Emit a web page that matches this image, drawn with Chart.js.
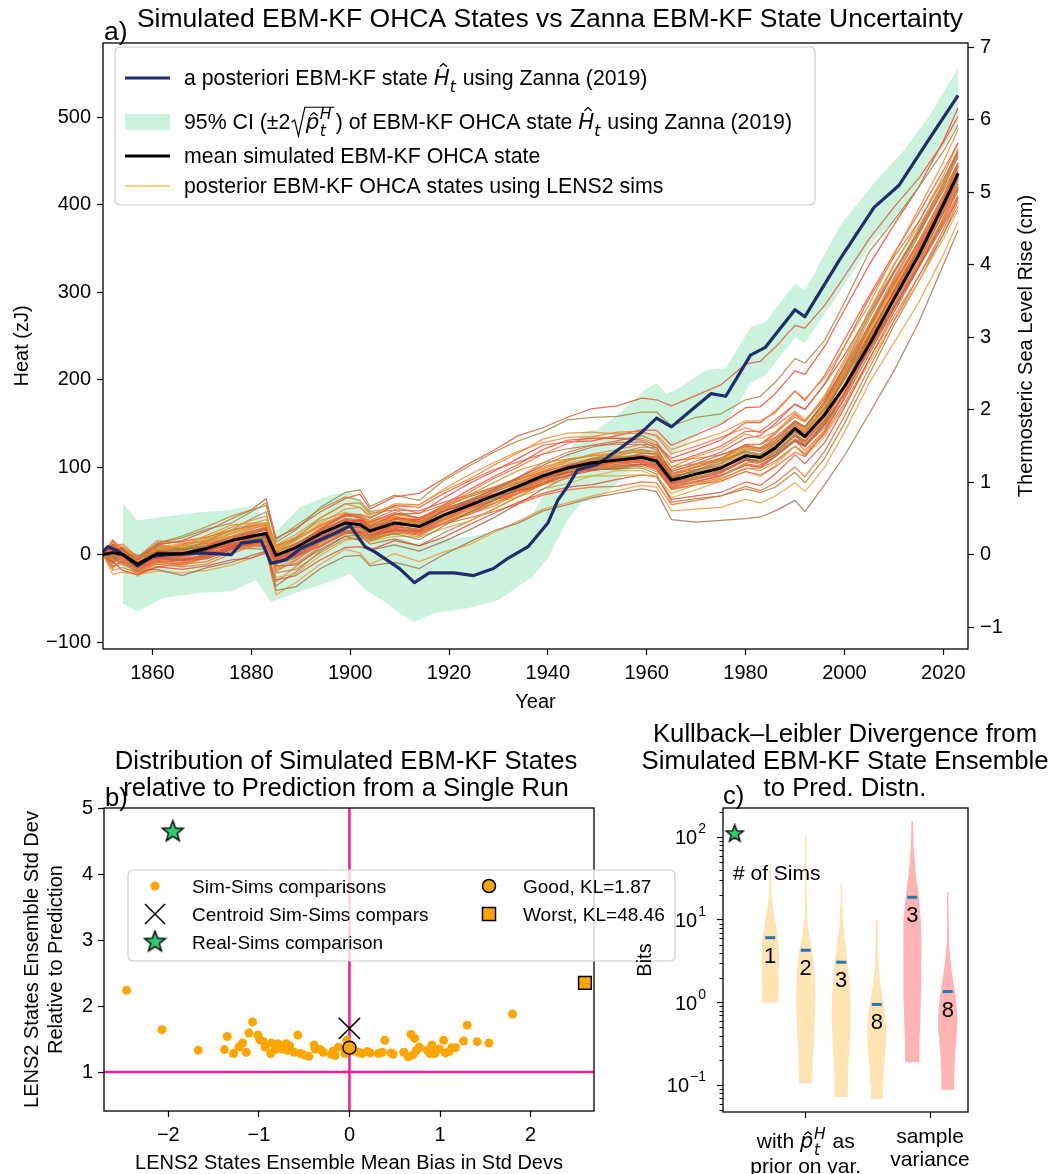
<!DOCTYPE html>
<html>
<head>
<meta charset="utf-8">
<title>EBM-KF OHCA ensemble states</title>
<script src="https://cdn.jsdelivr.net/npm/chart.js@4.4.1/dist/chart.umd.min.js"></script>
<style>
  html, body { margin: 0; padding: 0; background: #fff; overflow: hidden; }
  #wrap { position: relative; width: 1051px; height: 1174px; }
  canvas { position: absolute; }
  #ca { left: 0; top: 0; }
  #cb { left: 0; top: 700px; }
  #cc { left: 600px; top: 700px; }
</style>
</head>
<body>
<div id="wrap">
  <canvas id="ca" width="1051" height="720"></canvas>
  <canvas id="cb" width="700" height="474"></canvas>
  <canvas id="cc" width="451" height="474"></canvas>
</div>
<script>
// ---------------- panel a: ocean heat content anomaly ----------------
const YEAR_TICKS = [1860, 1880, 1900, 1920, 1940, 1960, 1980, 2000, 2020];
const HEAT_TICKS = [-100, 0, 100, 200, 300, 400, 500];
const SLR_TICKS = [-1, 0, 1, 2, 3, 4, 5, 6, 7];
const HEAT_RANGE = [-108, 585];
const ZJ_PER_CM = 82.9;

const RUN_YEARS = [1850,1852,1854,1857,1861,1866,1871,1876,1880,1883,1885,1889,1894,1899,1902,1904,1909,1914,1919,1924,1929,1934,1939,1944,1949,1954,1959,1962,1965,1970,1975,1980,1983,1986,1990,1992,1996,2000,2005,2010,2015,2020,2023];
const RUN_MEAN = [0,2,0,-11,1,1,7,16,21,24,-1,8,24,36,34,27,36,32,45,56,67,78,90,99,105,108,111,107,85,92,99,113,111,122,144,135,160,192,240,292,342,400,436];

// posterior EBM-KF states, one row per LENS2 simulation
const LENS2_RUNS = [
  [0,10,5,-6,11,16,27,41,51,64,19,30,49,64,69,52,66,70,87,104,119,136,145,157,167,170,179,177,170,182,194,218,221,237,262,259,285,318,361,397,430,471,501],
  [0,-3,3,-3,13,19,29,36,49,59,14,28,54,71,74,55,68,62,85,101,117,130,140,154,157,158,163,163,147,157,161,177,181,197,224,219,245,288,346,382,420,461,491],
  [0,14,8,-5,6,11,19,31,39,44,11,23,42,58,54,45,58,57,73,86,102,116,132,139,140,138,139,137,120,130,139,153,153,162,187,178,202,238,286,342,395,449,486],
  [0,-13,-8,-16,-7,-9,2,14,23,29,-6,6,29,46,46,42,56,54,70,84,97,106,115,121,125,130,136,129,105,114,124,141,141,154,172,166,195,238,293,340,380,429,461],
  [0,7,2,-11,-4,-7,-3,10,19,24,-9,2,22,38,39,27,41,40,57,74,89,103,120,131,133,133,131,125,110,120,131,151,151,164,187,176,205,246,296,344,390,439,471],
  [0,-6,-12,-17,6,9,17,28,35,40,9,20,39,48,44,35,41,35,53,68,82,96,105,109,113,113,119,117,100,104,109,125,126,140,162,152,182,223,279,332,375,423,454],
  [0,5,6,-11,-2,-5,-1,6,13,19,-11,-4,16,31,31,22,28,27,45,61,75,88,102,114,123,128,129,122,95,104,114,125,121,130,152,146,175,216,273,322,368,416,448],
  [0,-18,-15,-21,-11,-14,-11,1,9,14,-21,-17,2,18,19,15,26,24,40,54,67,81,95,107,115,120,126,125,107,110,114,123,119,127,145,139,168,208,263,317,368,421,458],
  [0,12,0,-14,9,6,9,16,18,19,-3,3,16,26,22,17,24,17,33,48,62,76,90,101,110,111,111,104,87,97,107,118,113,122,140,134,162,203,259,314,365,419,456],
  [0,-1,-5,-19,-9,-11,-8,4,11,16,-16,-10,9,24,24,19,31,29,45,54,62,70,80,91,100,106,111,109,90,100,109,125,126,134,152,146,175,210,261,310,355,403,436],
  [0,8,10,-7,1,3,12,24,31,36,4,10,24,34,29,19,26,20,30,38,52,66,80,87,90,90,91,89,70,80,89,105,106,120,142,132,155,190,241,290,335,383,416],
  [0,-8,-18,-23,-14,-17,-13,-6,-4,2,-29,-24,-6,8,9,5,16,10,20,34,47,60,70,77,80,86,91,89,63,67,71,83,79,92,114,104,128,168,223,277,328,381,418],
  [0,-3,-10,-19,-17,-24,-15,-9,-1,4,-41,-37,-16,-2,-1,-13,-9,-16,0,14,27,36,50,57,65,70,75,72,40,37,39,41,43,50,62,49,80,113,161,210,265,331,371],
  [0,-23,-20,-23,-19,-21,-18,-12,-4,4,-46,-32,-11,6,2,-11,1,-8,3,11,25,38,52,59,67,73,79,77,50,52,54,63,59,67,82,72,100,140,196,242,288,343,381],
  [0,4,-2,-15,-5,-3,5,18,26,32,-1,11,30,44,44,39,51,50,60,68,77,86,95,102,105,105,106,99,75,80,84,95,91,100,117,112,140,180,236,284,330,379,411],
  [0,-4,4,-9,13,21,32,44,51,56,17,33,52,66,62,49,54,47,57,66,75,83,92,97,100,100,101,95,77,87,97,113,114,127,150,144,172,213,269,322,372,426,464],
  [0,17,-5,-21,-14,-11,-1,11,13,12,-19,-7,14,31,32,27,33,26,35,42,49,58,68,74,77,78,83,82,57,62,67,78,73,82,100,89,118,158,213,267,318,371,408],
  [0,-10,8,-6,3,-1,2,8,16,22,-11,0,19,36,39,37,48,42,53,61,69,78,87,94,97,98,103,102,82,92,96,108,103,112,130,124,152,193,249,302,352,406,444],
  [0,6,-4,-13,6,11,22,34,36,36,5,16,36,52,54,42,56,57,75,91,105,118,128,134,135,133,133,127,100,112,121,138,133,140,157,152,180,220,276,330,380,433,471],
  [0,-6,2,-5,-4,-7,-5,6,15,20,-13,-12,6,21,16,5,11,4,15,28,42,58,75,89,100,108,116,115,90,94,99,110,106,114,132,126,148,183,233,282,328,376,408],
  [0,10,12,-3,16,13,15,21,29,34,1,6,19,28,24,22,36,37,55,71,87,100,115,127,135,140,141,135,115,124,134,145,139,147,164,154,178,213,263,312,358,411,448],
  [0,0,-6,-25,-7,-4,7,19,19,18,-26,-22,-1,16,19,15,21,20,37,51,59,66,75,81,90,96,96,89,65,74,84,95,89,102,124,112,135,170,219,267,312,361,394],
  [0,16,6,-11,4,1,5,11,11,10,-7,-2,10,24,26,21,34,34,50,59,67,73,80,91,100,106,113,112,97,107,117,133,136,150,172,166,195,228,276,324,370,423,461],
  [0,-16,-4,-19,-1,6,15,28,41,49,4,18,42,58,59,47,51,40,50,58,65,73,88,101,110,116,123,122,93,97,101,111,106,114,137,124,145,178,229,282,335,391,428],
  [0,8,-8,-15,-9,-13,-3,8,9,9,-31,-14,9,26,29,19,24,24,40,46,55,70,85,99,108,113,119,117,80,82,87,98,99,112,130,119,142,186,243,297,342,389,421],
  [0,-2,0,-9,1,4,12,18,21,22,-6,8,29,46,42,32,46,47,65,81,95,110,125,129,130,136,143,142,125,137,149,168,169,184,210,206,238,280,331,377,420,473,511],
  [0,4,8,-1,5,-1,1,6,7,6,-36,-20,4,21,22,12,18,10,25,38,52,66,82,94,97,98,99,92,60,64,67,75,71,77,94,82,110,150,206,262,312,366,404],
  [0,-8,-2,-7,11,7,7,12,19,26,-9,4,26,40,34,25,30,24,41,56,72,88,105,117,125,126,126,119,85,87,91,103,99,107,124,114,138,173,223,272,318,366,398],
  [0,5,3,-6,9,12,15,24,30,34,6,16,32,44,44,36,44,40,54,66,76,86,98,108,114,116,119,114,93,101,108,122,121,131,152,143,170,205,255,305,355,410,446],
  [0,-4,-6,-18,-8,-6,-2,8,12,15,-10,-2,14,27,25,19,27,22,36,46,58,70,82,90,96,100,103,98,76,83,90,102,100,112,131,124,150,186,236,286,336,390,424],
  [0,9,-2,-9,4,7,13,20,26,31,4,13,28,38,39,30,38,36,50,60,72,82,92,101,104,106,110,108,88,97,105,120,118,128,146,140,166,200,248,296,345,398,432],
  [0,-6,-9,-14,-3,-4,3,12,18,20,-6,3,20,32,28,22,32,28,41,52,62,74,86,96,103,106,108,102,80,86,93,108,105,115,135,128,153,190,242,292,340,393,430],
  [0,3,4,-12,4,5,10,18,24,28,2,12,27,40,38,30,40,37,49,61,71,82,94,103,108,111,113,110,89,96,104,118,115,127,148,140,167,204,252,300,348,400,438],
  [0,-10,-3,-16,-2,-2,4,14,19,21,-4,5,21,33,31,24,33,29,42,53,64,75,87,96,102,105,108,104,82,89,95,109,107,118,137,130,155,192,244,294,343,396,432],
  [0,7,5,-8,6,8,14,25,31,35,8,18,34,47,45,37,46,42,55,66,77,88,100,109,113,115,117,113,92,100,107,121,119,130,150,142,168,206,256,306,356,408,445],
  [0,-2,-4,-13,0,-1,5,13,17,18,-8,0,16,28,26,19,28,24,37,48,59,70,82,91,98,101,104,100,78,84,90,104,101,112,130,123,148,184,234,282,332,385,420],
  [0,12,7,-4,12,15,20,28,33,36,10,19,33,45,43,35,43,38,50,58,68,77,88,97,103,107,112,110,92,101,110,126,126,138,160,152,178,214,262,310,358,410,446],
  [0,-14,-11,-20,-9,-10,-4,6,11,14,-14,-6,12,25,24,18,28,25,39,51,63,75,87,95,100,102,103,97,74,80,86,99,96,105,124,116,141,178,229,280,330,384,418],
  [0,1,2,-10,3,3,9,19,25,30,4,12,28,41,40,32,41,37,51,63,74,86,98,108,113,117,120,117,95,103,110,124,122,133,153,146,172,208,258,308,356,409,444],
  [0,4,-5,-14,-1,-2,3,12,16,17,-6,3,18,30,28,21,30,27,40,50,61,72,84,93,99,103,107,103,81,88,95,109,108,118,138,130,156,194,246,296,344,396,431],
  [0,-5,1,-9,5,6,11,20,27,30,3,12,28,40,37,30,38,35,47,57,68,79,91,100,106,109,112,108,86,93,100,114,112,124,144,136,162,200,250,300,348,402,438],
  [0,6,-3,-12,2,2,9,18,22,25,0,9,25,38,36,28,37,33,46,57,68,80,92,101,107,110,113,108,86,92,99,113,110,121,140,133,158,195,246,297,346,399,434],
  [0,-8,4,-7,7,10,17,27,32,34,7,17,33,45,42,34,42,38,51,62,73,84,96,105,110,112,114,110,88,95,102,116,114,126,146,138,164,202,252,302,350,404,440],
  [0,2,-7,-15,-5,-6,0,9,14,17,-9,-1,15,27,25,19,29,26,40,51,62,73,85,94,100,103,106,102,80,87,94,108,106,117,136,129,155,192,243,293,342,395,429]
];

// a posteriori EBM-KF state driven by Zanna (2019)
const ZANNA_YEARS = [1850,1851,1853,1857,1860,1863,1870,1876,1878,1882,1884,1887,1890,1896,1900,1903,1905,1910,1913,1916,1921,1925,1929,1932,1936,1940,1942,1944,1946,1950,1955,1959,1962,1965,1969,1973,1976,1981,1984,1990,1992,1999,2006,2011,2017,2023];
const ZANNA_HEAT = [3,9,4,-13,-2,0,2,0,13,16,-10,-6,7,22,33,9,3,-16,-32,-21,-21,-24,-16,-4,9,36,62,78,97,103,123,140,156,146,165,184,181,228,237,280,272,337,397,422,474,525];

// 95% interval of that state
const CI_YEARS = [1854,1857,1862,1869,1876,1881,1884,1886,1890,1896,1900,1903,1907,1910,1913,1917,1924,1930,1937,1940,1944,1947,1950,1953,1956,1960,1962,1964,1967,1972,1976,1981,1984,1990,1992,1999,2006,2012,2017,2023];
const CI_UPPER = [59,39,43,48,51,57,20,32,55,68,72,55,39,20,13,17,20,28,47,76,116,140,143,155,169,190,196,184,192,211,213,260,266,310,302,375,425,462,500,556];
const CI_LOWER = [-56,-65,-50,-44,-42,-29,-54,-50,-42,-31,-22,-40,-54,-67,-77,-67,-61,-52,-25,-4,40,60,63,75,95,112,120,108,122,145,150,196,205,248,242,300,360,392,440,492];

// ---------------- panel b: ensemble bias vs spread ----------------
const SIM_BIAS = [-2.46,-2.07,-1.67,-1.38,-1.35,-1.28,-1.22,-1.18,-1.14,-1.11,-1.07,-1.01,-0.99,-0.95,-0.93,-0.87,-0.86,-0.82,-0.79,-0.74,-0.70,-0.69,-0.66,-0.61,-0.57,-0.54,-0.50,-0.45,-0.39,-0.38,-0.32,-0.29,-0.20,-0.18,-0.16,-0.12,-0.05,-0.03,-0.01,0.05,0.10,0.14,0.20,0.23,0.32,0.36,0.39,0.46,0.48,0.60,0.65,0.68,0.70,0.72,0.74,0.77,0.86,0.89,0.91,0.94,0.99,1.04,1.06,1.10,1.13,1.17,1.26,1.30,1.41,1.54,1.80];
const SIM_SPREAD = [2.24,1.64,1.33,1.34,1.54,1.28,1.38,1.44,1.30,1.59,1.76,1.56,1.49,1.46,1.38,1.28,1.44,1.34,1.43,1.35,1.43,1.33,1.40,1.30,1.56,1.28,1.26,1.24,1.41,1.35,1.34,1.30,1.27,1.32,1.25,1.38,1.28,1.48,1.33,1.32,1.30,1.28,1.31,1.29,1.28,1.30,1.48,1.29,1.27,1.30,1.23,1.57,1.26,1.51,1.33,1.38,1.33,1.28,1.41,1.28,1.35,1.48,1.29,1.31,1.37,1.37,1.47,1.71,1.46,1.44,1.88];
const CENTROID = [0, 1.66];
const REAL_SIMS = [-1.95, 4.64];
const GOOD_RUN = [0, 1.37];
const WORST_RUN = [2.60, 2.35];
const GOOD_KL = '1.87';
const WORST_KL = '48.46';
const BIAS_TICKS = [-2, -1, 0, 1, 2];
const SPREAD_TICKS = [1, 2, 3, 4, 5];

// ---------------- panel c: KL divergence violins ----------------
const VIOLIN_POS = [1, 2, 3, 4, 5, 6];
const VIOLIN_LEVELS = [
  [49, 30, 20, 14, 10, 7, 5, 3.5, 2.5, 1.8, 1.3, 1.0],
  [105, 50, 20, 10, 6, 4, 2.5, 1.5, 0.8, 0.4, 0.2, 0.105],
  [27, 15, 8, 5, 3, 2, 1.2, 0.7, 0.4, 0.2, 0.12, 0.072],
  [10, 5, 2.5, 1.5, 1.0, 0.6, 0.4, 0.25, 0.15, 0.1, 0.068],
  [155, 80, 40, 20, 10, 5, 2, 1, 0.5, 0.3, 0.19],
  [22, 10, 5, 3, 2, 1.2, 0.7, 0.45, 0.25, 0.15, 0.088]
];
const VIOLIN_WIDTHS = [
  [0.02, 0.025, 0.04, 0.08, 0.14, 0.2, 0.235, 0.25, 0.245, 0.235, 0.225, 0.22],
  [0.02, 0.022, 0.028, 0.045, 0.11, 0.19, 0.245, 0.27, 0.265, 0.235, 0.2, 0.18],
  [0.02, 0.028, 0.06, 0.12, 0.18, 0.22, 0.26, 0.27, 0.25, 0.21, 0.19, 0.185],
  [0.02, 0.03, 0.06, 0.12, 0.19, 0.26, 0.27, 0.24, 0.19, 0.17, 0.16],
  [0.02, 0.04, 0.09, 0.18, 0.24, 0.26, 0.25, 0.24, 0.22, 0.2, 0.2],
  [0.02, 0.025, 0.04, 0.08, 0.14, 0.22, 0.27, 0.26, 0.21, 0.18, 0.175]
];
const VIOLIN_MEAN = [6.1, 4.3, 3.08, 0.95, 18.8, 1.36];
const NUM_SIMS = [1, 2, 3, 8, 3, 8];
const REAL_KL = 110;
const GROUP_TICKS = [2, 5.5];
const BITS_TICKS = [0.1, 1, 10, 100];

// ---------------- styling ----------------
const FONT = '"Liberation Sans", Arial, Helvetica, sans-serif';
const MATH = '"DejaVu Sans", sans-serif';
const NAVY = '#1f2d6e';
const BAND = 'rgb(203,242,220)';
const ORANGE = '#ffa500';
const MAGENTA = '#ff1493';
const GREEN = '#2ecc71';
const RUN_COLORS = ['#e8553a','#9a8c42','#f28a2e','#d8643f','#ff4a2e','#c99a2e','#b86a4e','#ef7a35','#8e8440','#ff6633','#d9a23a','#e64b3c','#a47452','#f39a3a','#ff5a40','#b5903c','#ea6a2a','#c8583e','#ee9030','#9c7048','#ff7040','#d4b040','#e0483e','#b08a46','#f07a40','#ff3f35','#a5803e','#e86a50','#f5a030','#d4583a','#a89040','#ff5a5a'];
const TITLE_A = 26.5;
const TITLE_BC = 25.7;
const TICK_SIZE = 20;
const LEGEND_A = 21.3;

Chart.defaults.font.family = FONT;
Chart.defaults.color = '#000';

const xy = (xs, ys) => xs.map((x, i) => ({ x, y: ys[i] }));
const minus = v => String(v).replace('-', '\u2212');
const fixedTicks = arr => s => { s.ticks = arr.map(v => ({ value: v })); };

function tickGrid() {
  return { display: true, drawOnChartArea: false, drawTicks: true, tickLength: 6, tickColor: '#000', tickWidth: 1.2 };
}

// black box around the plotting area
const framePlugin = {
  id: 'frame',
  afterDatasetsDraw(chart) {
    const { ctx, chartArea: a } = chart;
    ctx.save();
    ctx.strokeStyle = '#000';
    ctx.lineWidth = 1.3;
    ctx.strokeRect(a.left, a.top, a.right - a.left, a.bottom - a.top);
    ctx.restore();
  }
};

function text(ctx, str, x, y, size, align = 'left') {
  ctx.save();
  ctx.font = `${size}px ${FONT}`;
  ctx.fillStyle = '#000';
  ctx.textAlign = align;
  ctx.textBaseline = 'alphabetic';
  ctx.fillText(str, x, y);
  ctx.restore();
}

// inline math: hats, sub/superscripts, square root
function runRich(ctx, parts, x, y, size, draw) {
  let cx = x;
  for (const p of parts) {
    if (p.sqrt) {
      const rw = size * 0.72;
      const inner = runRich(ctx, p.sqrt, 0, 0, size, false);
      if (draw) {
        ctx.save();
        ctx.lineWidth = Math.max(1, size * 0.055);
        ctx.strokeStyle = '#000';
        const top = y - size * 1.02, bot = y + size * 0.32;
        ctx.beginPath();
        ctx.moveTo(cx + size * 0.06, y - size * 0.32);
        ctx.lineTo(cx + size * 0.2, y - size * 0.42);
        ctx.lineTo(cx + size * 0.38, bot);
        ctx.lineTo(cx + rw - size * 0.04, top);
        ctx.lineTo(cx + rw + inner + size * 0.08, top);
        ctx.stroke();
        ctx.restore();
        runRich(ctx, p.sqrt, cx + rw, y, size, true);
      }
      cx += rw + inner + size * 0.14;
      continue;
    }
    if (p.ss) {
      const s = size * 0.74;
      ctx.font = `italic ${s}px ${MATH}`;
      const w = Math.max(ctx.measureText(p.ss[0]).width, ctx.measureText(p.ss[1]).width);
      if (draw) {
        ctx.fillText(p.ss[0], cx + size * 0.03, y + size * 0.32);
        ctx.fillText(p.ss[1], cx + size * 0.03, y - size * 0.45);
      }
      cx += w + size * 0.08;
      continue;
    }
    const kind = p.k || 'r';
    let s = size, dy = 0, fam = FONT, style = '';
    if (kind === 'hat') { fam = MATH; style = 'italic '; s = size * 1.0; }
    if (kind === 'sub') { fam = MATH; style = 'italic '; s = size * 0.74; dy = size * 0.32; }
    ctx.font = `${style}${s}px ${fam}`;
    const w = ctx.measureText(p.t).width;
    if (draw) {
      ctx.fillText(p.t, cx, y + dy);
      if (kind === 'hat') {
        const hx = cx + w * 0.6, hy = y - s * (p.h || 0.84);
        ctx.save();
        ctx.lineWidth = Math.max(1, size * 0.06);
        ctx.strokeStyle = '#000';
        ctx.beginPath();
        ctx.moveTo(hx - s * 0.17, hy);
        ctx.lineTo(hx, hy - s * 0.15);
        ctx.lineTo(hx + s * 0.17, hy);
        ctx.stroke();
        ctx.restore();
      }
    }
    cx += w + (kind === 'sub' ? size * 0.04 : 0);
  }
  return cx - x;
}
function drawRich(ctx, parts, x, y, size, align = 'left') {
  ctx.save();
  ctx.textBaseline = 'alphabetic';
  ctx.textAlign = 'left';
  ctx.fillStyle = '#000';
  const w = runRich(ctx, parts, 0, 0, size, false);
  const x0 = align === 'center' ? x - w / 2 : (align === 'right' ? x - w : x);
  runRich(ctx, parts, x0, y, size, true);
  ctx.restore();
}

function legendBox(ctx, x, y, w, h) {
  ctx.save();
  ctx.beginPath();
  if (ctx.roundRect) ctx.roundRect(x, y, w, h, 5); else ctx.rect(x, y, w, h);
  ctx.fillStyle = 'rgba(255,255,255,0.8)';
  ctx.fill();
  ctx.strokeStyle = '#cccccc';
  ctx.lineWidth = 1.2;
  ctx.stroke();
  ctx.restore();
}
function hline(ctx, x0, x1, y, color, width) {
  ctx.save();
  ctx.strokeStyle = color;
  ctx.lineWidth = width;
  ctx.beginPath();
  ctx.moveTo(x0, y);
  ctx.lineTo(x1, y);
  ctx.stroke();
  ctx.restore();
}

function starImage(size, fill) {
  const c = document.createElement('canvas');
  c.width = c.height = size;
  const g = c.getContext('2d');
  const m = size / 2, R = size / 2 - 1.5, r = R * 0.42;
  g.beginPath();
  for (let k = 0; k < 10; k++) {
    const a = -Math.PI / 2 + k * Math.PI / 5;
    const rr = k % 2 ? r : R;
    g.lineTo(m + rr * Math.cos(a), m + rr * Math.sin(a));
  }
  g.closePath();
  g.fillStyle = fill;
  g.fill();
  g.lineWidth = 1.4;
  g.strokeStyle = '#000';
  g.stroke();
  return c;
}
const STAR_B = starImage(25, GREEN);
const STAR_C = starImage(21, GREEN);

const HAT_H = [{ t: 'H', k: 'hat', h: 0.86 }, { t: 't', k: 'sub' }];
const HAT_P = [{ t: 'p', k: 'hat', h: 0.62 }, { ss: ['t', 'H'] }];

// ---------------- panel a chart ----------------
const decoA = {
  id: 'decoA',
  afterDraw(chart) {
    const ctx = chart.ctx;
    const a = chart.chartArea;
    text(ctx, 'Simulated EBM-KF OHCA States vs Zanna EBM-KF State Uncertainty', 550, 27, TITLE_A, 'center');
    text(ctx, 'a)', a.left + 1, 40, TITLE_A);
    // right-hand axis title, read bottom to top
    ctx.save();
    ctx.translate(1025, (a.top + a.bottom) / 2);
    ctx.rotate(-Math.PI / 2);
    text(ctx, 'Thermosteric Sea Level Rise (cm)', 0, 7, 20, 'center');
    ctx.restore();

    legendBox(ctx, 115, 47, 700, 158);
    hline(ctx, 125, 170, 78, NAVY, 3);
    drawRich(ctx, [{ t: 'a posteriori EBM-KF state ' }, ...HAT_H, { t: ' using Zanna (2019)' }], 184, 85, LEGEND_A);
    ctx.save();
    ctx.fillStyle = BAND;
    ctx.fillRect(125, 114, 45, 16);
    ctx.restore();
    drawRich(ctx, [{ t: '95% CI (\u00b12' }, { sqrt: HAT_P }, { t: ') of EBM-KF OHCA state ' }, ...HAT_H, { t: ' using Zanna (2019)' }], 184, 129, LEGEND_A);
    hline(ctx, 125, 170, 156, '#000', 3);
    text(ctx, 'mean simulated EBM-KF OHCA state', 184, 163, LEGEND_A);
    hline(ctx, 125, 170, 186, '#ffc04a', 1.3);
    text(ctx, 'posterior EBM-KF OHCA states using LENS2 sims', 184, 193, LEGEND_A);
  }
};

new Chart(document.getElementById('ca'), {
  type: 'line',
  data: {
    datasets: [
      { data: xy(CI_YEARS, CI_UPPER), borderColor: 'rgba(0,0,0,0)', borderWidth: 0, pointRadius: 0, fill: false, order: 20 },
      { data: xy(CI_YEARS, CI_LOWER), borderColor: 'rgba(0,0,0,0)', borderWidth: 0, pointRadius: 0, fill: '-1', backgroundColor: BAND, order: 19 },
      ...LENS2_RUNS.map((run, i) => ({
        data: xy(RUN_YEARS, run),
        borderColor: RUN_COLORS[i % RUN_COLORS.length] + 'd9',
        borderWidth: 1.25, pointRadius: 0, fill: false, order: 10
      })),
      { data: xy(ZANNA_YEARS, ZANNA_HEAT), borderColor: NAVY, borderWidth: 3.2, pointRadius: 0, fill: false, order: 2 },
      { data: xy(RUN_YEARS, RUN_MEAN), borderColor: '#000', borderWidth: 3, pointRadius: 0, fill: false, order: 1 }
    ]
  },
  options: {
    responsive: false, animation: false, devicePixelRatio: 1, events: [],
    layout: { padding: { top: 43, left: 0, right: 0, bottom: 0 }, autoPadding: false },
    elements: { line: { tension: 0, borderJoinStyle: 'round' } },
    plugins: { legend: { display: false }, tooltip: { enabled: false } },
    scales: {
      x: {
        type: 'linear', min: 1850, max: 2025,
        afterBuildTicks: fixedTicks(YEAR_TICKS),
        afterFit: s => { s.height = 71; },
        ticks: { autoSkip: false, maxRotation: 0, padding: 6, font: { size: TICK_SIZE }, color: '#000', callback: v => String(v) },
        grid: tickGrid(), border: { display: false },
        title: { display: true, text: 'Year', font: { size: 20 }, color: '#000', padding: { top: 0, bottom: 6 } }
      },
      y: {
        type: 'linear', position: 'left', min: HEAT_RANGE[0], max: HEAT_RANGE[1],
        afterBuildTicks: fixedTicks(HEAT_TICKS),
        afterFit: s => { s.width = 103; },
        ticks: { autoSkip: false, padding: 6, font: { size: TICK_SIZE }, color: '#000', callback: minus },
        grid: tickGrid(), border: { display: false },
        title: { display: true, text: 'Heat (zJ)', font: { size: 20 }, color: '#000', padding: { top: 10, bottom: 0 } }
      },
      y2: {
        type: 'linear', position: 'right', display: true,
        min: HEAT_RANGE[0] / ZJ_PER_CM, max: HEAT_RANGE[1] / ZJ_PER_CM,
        afterBuildTicks: fixedTicks(SLR_TICKS),
        afterFit: s => { s.width = 83; },
        ticks: { autoSkip: false, padding: 6, font: { size: TICK_SIZE }, color: '#000', callback: minus },
        grid: tickGrid(), border: { display: false }
      }
    }
  },
  plugins: [framePlugin, decoA]
});

// ---------------- panel b chart ----------------
const B_X = [-2.71, 2.70];
const B_Y = [0.41, 5.0];
const decoB = {
  id: 'decoB',
  afterDraw(chart) {
    const ctx = chart.ctx;
    text(ctx, 'Distribution of Simulated EBM-KF States', 346, 69, TITLE_BC, 'center');
    text(ctx, 'relative to Prediction from a Single Run', 346, 96, TITLE_BC, 'center');
    text(ctx, 'b)', 105, 106, TITLE_BC);

    legendBox(ctx, 128, 170, 547, 91);
    ctx.save();
    ctx.fillStyle = ORANGE;
    ctx.beginPath(); ctx.arc(155, 186, 4.5, 0, Math.PI * 2); ctx.fill();
    ctx.strokeStyle = '#000'; ctx.lineWidth = 1.5;
    ctx.beginPath();
    ctx.moveTo(145, 204); ctx.lineTo(165, 224);
    ctx.moveTo(165, 204); ctx.lineTo(145, 224);
    ctx.stroke();
    ctx.drawImage(STAR_B, 155 - 12.5, 242 - 12.5);
    ctx.beginPath(); ctx.arc(489, 186, 6.5, 0, Math.PI * 2); ctx.fill(); ctx.stroke();
    ctx.fillRect(482.5, 207.5, 13, 13); ctx.strokeRect(482.5, 207.5, 13, 13);
    ctx.restore();
    text(ctx, 'Sim-Sims comparisons', 192, 193, 19);
    text(ctx, 'Centroid Sim-Sims compars', 192, 221, 19);
    text(ctx, 'Real-Sims comparison', 192, 249, 19);
    text(ctx, 'Good, KL=' + GOOD_KL, 523, 193, 19);
    text(ctx, 'Worst, KL=' + WORST_KL, 523, 221, 19);
  }
};

new Chart(document.getElementById('cb'), {
  type: 'scatter',
  data: {
    datasets: [
      { data: xy(SIM_BIAS, SIM_SPREAD), pointRadius: 4.5, backgroundColor: ORANGE, borderWidth: 0, order: 3 },
      { data: [{ x: GOOD_RUN[0], y: GOOD_RUN[1] }], pointRadius: 6.5, backgroundColor: ORANGE, borderColor: '#000', borderWidth: 1.5, order: 2 },
      { data: [{ x: WORST_RUN[0], y: WORST_RUN[1] }], pointStyle: 'rect', pointRadius: 9, backgroundColor: ORANGE, borderColor: '#000', borderWidth: 1.5, order: 2 },
      { data: [{ x: CENTROID[0], y: CENTROID[1] }], pointStyle: 'crossRot', pointRadius: 15, borderColor: '#000', borderWidth: 1.5, order: 1 },
      { data: [{ x: REAL_SIMS[0], y: REAL_SIMS[1] }], pointStyle: STAR_B, order: 1 },
      { data: [{ x: 0, y: B_Y[0] }, { x: 0, y: B_Y[1] }], showLine: true, pointRadius: 0, borderColor: MAGENTA, borderWidth: 2.5, order: 10 },
      { data: [{ x: B_X[0], y: 1 }, { x: B_X[1], y: 1 }], showLine: true, pointRadius: 0, borderColor: MAGENTA, borderWidth: 2.5, order: 10 }
    ]
  },
  options: {
    responsive: false, animation: false, devicePixelRatio: 1, events: [],
    layout: { padding: { top: 108, left: 0, right: 106, bottom: 0 }, autoPadding: false },
    plugins: { legend: { display: false }, tooltip: { enabled: false } },
    scales: {
      x: {
        type: 'linear', min: B_X[0], max: B_X[1],
        afterBuildTicks: fixedTicks(BIAS_TICKS),
        afterFit: s => { s.height = 63; },
        ticks: { autoSkip: false, maxRotation: 0, padding: 6, font: { size: TICK_SIZE }, color: '#000', callback: minus },
        grid: tickGrid(), border: { display: false },
        title: { display: true, text: 'LENS2 States Ensemble Mean Bias in Std Devs', font: { size: 20, lineHeight: 1.1 }, color: '#000', padding: { top: 0, bottom: 0 } }
      },
      y: {
        type: 'linear', min: B_Y[0], max: B_Y[1],
        afterBuildTicks: fixedTicks(SPREAD_TICKS),
        afterFit: s => { s.width = 104; },
        ticks: { autoSkip: false, padding: 5, font: { size: TICK_SIZE }, color: '#000', callback: v => String(v) },
        grid: tickGrid(), border: { display: false },
        title: { display: true, text: ['LENS2 States Ensemble Std Dev', 'Relative to Prediction'], font: { size: 20 }, color: '#000', padding: { top: 20, bottom: 0 } }
      }
    }
  },
  plugins: [framePlugin, decoB]
});

// ---------------- panel c chart ----------------
function violinOutline(pos, levels, widths) {
  const right = levels.map((v, i) => ({ x: pos + widths[i], y: v }));
  const left = levels.map((v, i) => ({ x: pos - widths[i], y: v })).reverse();
  return right.concat(left);
}
const VIOLIN_FILL = ['rgb(255,228,179)', 'rgb(255,228,179)', 'rgb(255,228,179)', 'rgb(255,228,179)', 'rgb(255,179,179)', 'rgb(255,179,179)'];

const decoC = {
  id: 'decoC',
  afterDraw(chart) {
    const ctx = chart.ctx;
    const a = chart.chartArea;
    const xs = chart.scales.x, ys = chart.scales.y;
    text(ctx, 'Kullback\u2013Leibler Divergence from', 245, 42, TITLE_BC, 'center');
    text(ctx, 'Simulated EBM-KF State Ensemble', 245, 69, TITLE_BC, 'center');
    text(ctx, 'to Pred. Distn.', 245, 96, TITLE_BC, 'center');
    text(ctx, 'c)', a.left, 104, TITLE_BC);
    text(ctx, '# of Sims', a.left + 10, 180, 21);
    // simulation counts under each mean marker
    VIOLIN_POS.forEach((p, i) => {
      text(ctx, String(NUM_SIMS[i]), xs.getPixelForValue(p), ys.getPixelForValue(VIOLIN_MEAN[i]) + 25, 22, 'center');
    });
    // log-axis labels 10^k
    ctx.save();
    BITS_TICKS.forEach(v => {
      const y = ys.getPixelForValue(v);
      const e = minus(Math.round(Math.log10(v)));
      ctx.font = `20px ${FONT}`;
      const w10 = ctx.measureText('10').width;
      ctx.font = `14px ${FONT}`;
      const we = ctx.measureText(e).width;
      const x0 = a.left - 18 - w10 - we;
      text(ctx, '10', x0, y + 7, 20);
      text(ctx, e, x0 + w10 + 1, y - 4, 14);
    });
    // minor ticks
    ctx.strokeStyle = '#000';
    ctx.lineWidth = 1;
    ctx.beginPath();
    for (let k = -2; k <= 2; k++) {
      for (let m = 2; m <= 9; m++) {
        const v = m * Math.pow(10, k);
        if (v <= ys.min || v >= ys.max) continue;
        const y = Math.round(ys.getPixelForValue(v)) + 0.5;
        ctx.moveTo(a.left, y);
        ctx.lineTo(a.left - 3.5, y);
      }
    }
    ctx.stroke();
    ctx.restore();
    // group labels
    const g1 = xs.getPixelForValue(GROUP_TICKS[0]);
    const g2 = xs.getPixelForValue(GROUP_TICKS[1]);
    drawRich(ctx, [{ t: 'with ' }, ...HAT_P, { t: ' as' }], g1, 448, 21, 'center');
    text(ctx, 'prior on var.', g1, 473, 21, 'center');
    text(ctx, 'sample', g2, 443, 21, 'center');
    text(ctx, 'variance', g2, 466, 21, 'center');
  }
};

new Chart(document.getElementById('cc'), {
  type: 'scatter',
  data: {
    datasets: [
      ...VIOLIN_POS.map((p, i) => ({
        data: violinOutline(p, VIOLIN_LEVELS[i], VIOLIN_WIDTHS[i]),
        showLine: true, fill: 'shape', backgroundColor: VIOLIN_FILL[i],
        borderColor: 'rgba(0,0,0,0)', borderWidth: 0, pointRadius: 0, tension: 0, order: 5
      })),
      { data: xy(VIOLIN_POS, VIOLIN_MEAN), pointStyle: 'line', pointRadius: 5, borderColor: '#1f77b4', borderWidth: 3, order: 2 },
      { data: [{ x: 0, y: REAL_KL }], pointStyle: STAR_C, order: 1 }
    ]
  },
  options: {
    responsive: false, animation: false, devicePixelRatio: 1, events: [],
    layout: { padding: { top: 108, left: 0, right: 83, bottom: 0 }, autoPadding: false },
    plugins: { legend: { display: false }, tooltip: { enabled: false } },
    scales: {
      x: {
        type: 'linear', min: -0.33, max: 6.57,
        afterBuildTicks: fixedTicks(GROUP_TICKS),
        afterFit: s => { s.height = 62; },
        ticks: { autoSkip: false, maxRotation: 0, font: { size: TICK_SIZE }, callback: () => '' },
        grid: tickGrid(), border: { display: false }
      },
      y: {
        type: 'logarithmic', min: 0.0475, max: 226,
        afterBuildTicks: fixedTicks(BITS_TICKS),
        afterFit: s => { s.width = 123; },
        ticks: { autoSkip: false, font: { size: TICK_SIZE }, callback: () => '' },
        grid: tickGrid(), border: { display: false },
        title: { display: true, text: 'Bits', font: { size: 20 }, color: '#000', padding: { top: 33, bottom: 0 } }
      }
    }
  },
  plugins: [framePlugin, decoC]
});
</script>
</body>
</html>
